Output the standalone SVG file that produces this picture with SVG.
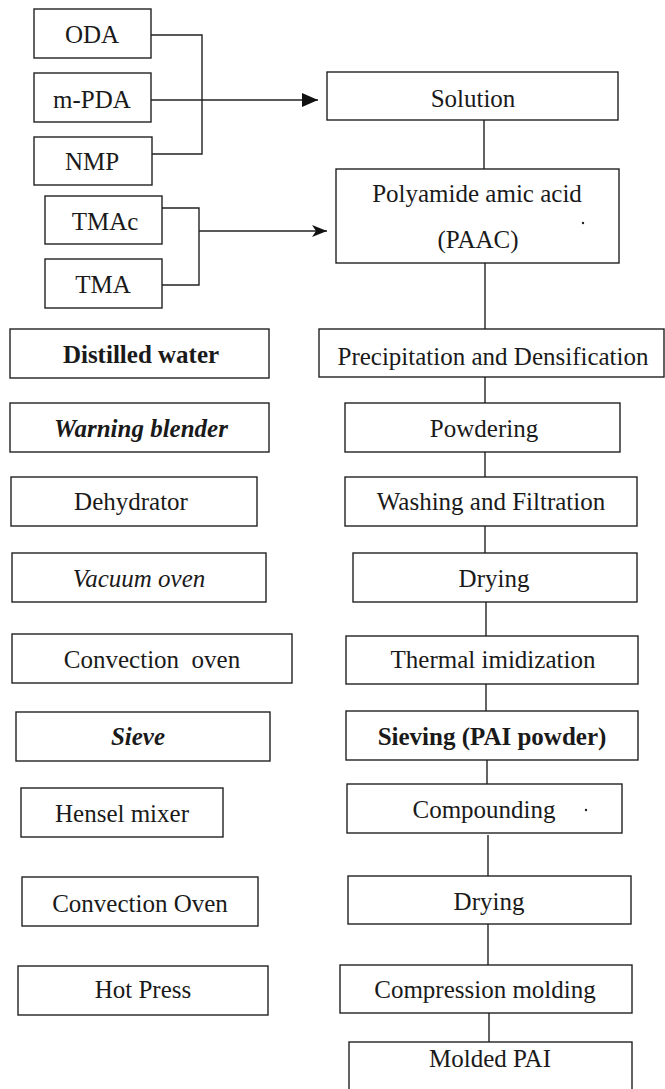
<svg xmlns="http://www.w3.org/2000/svg" width="665" height="1089" viewBox="0 0 665 1089">
<defs>
<style>
.box{fill:#fff;stroke:#222;stroke-width:1.4}
.t{font-family:"Liberation Serif","Times New Roman",serif;font-size:25px;fill:#1a1a1a;text-anchor:middle}
.b{font-weight:bold}
.i{font-style:italic}
.ln{fill:none;stroke:#222;stroke-width:1.4}
</style>
<marker id="ah1" viewBox="0 0 16 14" refX="16" refY="7" markerWidth="16" markerHeight="14" markerUnits="userSpaceOnUse" orient="auto"><path d="M0,0 L16,7 L0,14 Z" fill="#111"/></marker>
<marker id="ah2" viewBox="0 0 15 12" refX="15" refY="6" markerWidth="15" markerHeight="12" markerUnits="userSpaceOnUse" orient="auto"><path d="M0,0 L15,6 L0,12 L4,6 Z" fill="#111"/></marker>
</defs>
<rect width="665" height="1089" fill="#fff"/>
<g id="connectors">
<path class="ln" d="M151,35 H202 V154 H152"/>
<path class="ln" d="M151,100 H318" marker-end="url(#ah1)"/>
<path class="ln" d="M162,208 H199 V285 H162"/>
<path class="ln" d="M199,231 H327" marker-end="url(#ah2)"/>
<path class="ln" d="M484,120 V169"/>
<path class="ln" d="M485,263 V329"/>
<path class="ln" d="M485,377 V403"/>
<path class="ln" d="M485,452 V477"/>
<path class="ln" d="M485,526 V553"/>
<path class="ln" d="M486,602 V636"/>
<path class="ln" d="M486,684 V711"/>
<path class="ln" d="M487,760 V784"/>
<path class="ln" d="M488,835 V876"/>
<path class="ln" d="M488,924 V965"/>
<path class="ln" d="M489,1013 V1042"/>
</g>
<g id="oda"><rect class="box" x="34" y="9" width="117" height="49"/><text class="t" x="92" y="43">ODA</text></g>
<g id="mpda"><rect class="box" x="34" y="73" width="117" height="49"/><text class="t" x="92" y="108">m-PDA</text></g>
<g id="nmp"><rect class="box" x="34" y="137" width="118" height="48"/><text class="t" x="92" y="170">NMP</text></g>
<g id="tmac"><rect class="box" x="45" y="196" width="117" height="48"/><text class="t" x="105" y="230">TMAc</text></g>
<g id="tma"><rect class="box" x="45" y="259" width="117" height="49"/><text class="t" x="103" y="293">TMA</text></g>
<g id="distilled"><rect class="box" x="10" y="329" width="259" height="49"/><text class="t b" x="141" y="363">Distilled water</text></g>
<g id="blender"><rect class="box" x="10" y="403" width="259" height="49"/><text class="t b i" x="141" y="437">Warning blender</text></g>
<g id="dehydrator"><rect class="box" x="11" y="477" width="246" height="49"/><text class="t" x="131" y="510">Dehydrator</text></g>
<g id="vacuum"><rect class="box" x="12" y="553" width="254" height="49"/><text class="t i" x="139" y="587">Vacuum oven</text></g>
<g id="convection1"><rect class="box" x="12" y="634" width="280" height="49"/><text class="t" x="152" y="668" xml:space="preserve">Convection  oven</text></g>
<g id="sieve"><rect class="box" x="16" y="712" width="254" height="49"/><text class="t b i" x="138" y="745">Sieve</text></g>
<g id="hensel"><rect class="box" x="21" y="788" width="202" height="49"/><text class="t" x="122" y="822">Hensel mixer</text></g>
<g id="convection2"><rect class="box" x="22" y="877" width="236" height="49"/><text class="t" x="140" y="912">Convection Oven</text></g>
<g id="hotpress"><rect class="box" x="18" y="966" width="250" height="49"/><text class="t" x="143" y="998">Hot Press</text></g>
<g id="solution"><rect class="box" x="327" y="72" width="291" height="48"/><text class="t" x="473" y="107">Solution</text></g>
<g id="paac"><rect class="box" x="336" y="169" width="283" height="94"/><text class="t" x="477" y="202">Polyamide amic acid</text><text class="t" x="478" y="248">(PAAC)</text><circle cx="583" cy="223" r="1.2" fill="#222"/></g>
<g id="precipitation"><rect class="box" x="319" y="329" width="345" height="48"/><text class="t" x="493" y="365">Precipitation and Densification</text></g>
<g id="powdering"><rect class="box" x="345" y="403" width="275" height="49"/><text class="t" x="484" y="437">Powdering</text></g>
<g id="washing"><rect class="box" x="345" y="477" width="292" height="49"/><text class="t" x="491" y="510">Washing and Filtration</text></g>
<g id="drying1"><rect class="box" x="353" y="553" width="284" height="49"/><text class="t" x="494" y="587">Drying</text></g>
<g id="thermal"><rect class="box" x="346" y="636" width="292" height="48"/><text class="t" x="493" y="668">Thermal imidization</text></g>
<g id="sieving"><rect class="box" x="346" y="711" width="292" height="49"/><text class="t b" x="492" y="745">Sieving (PAI powder)</text></g>
<g id="compounding"><rect class="box" x="347" y="784" width="275" height="49"/><text class="t" x="484" y="818">Compounding</text><circle cx="586" cy="810" r="1.2" fill="#222"/></g>
<g id="drying2"><rect class="box" x="348" y="876" width="283" height="48"/><text class="t" x="489" y="910">Drying</text></g>
<g id="compression"><rect class="box" x="340" y="965" width="292" height="48"/><text class="t" x="485" y="998">Compression molding</text></g>
<g id="molded"><rect class="box" x="349" y="1042" width="283" height="52"/><text class="t" x="490" y="1067">Molded PAI</text></g>
</svg>
